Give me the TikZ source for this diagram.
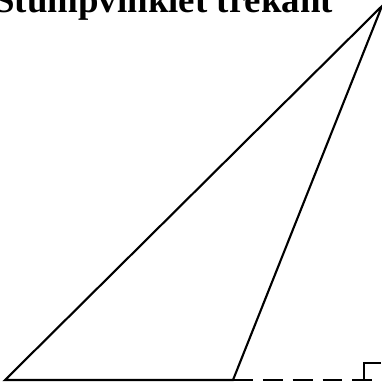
\documentclass[tikz,border=0pt]{standalone}
\usepackage{fontspec}
\setmainfont{Liberation Serif}
\usetikzlibrary{positioning}

\begin{document}
\begin{tikzpicture}[
  x=0.02cm, y=-0.02cm,
  side/.style={line width=1.2pt,black,line join=miter},
  extline/.style={line width=1.2pt,black,dash pattern=on 11.3pt off 5.7pt},
  rtangle/.style={line width=0.7pt,black},
  titlefont/.style={font=\bfseries\fontsize{21}{25}\selectfont,
                    inner sep=0pt,anchor=base west},
]
\useasboundingbox (0,0) rectangle (382,382);

%% ─── Triangle ────────────────────────────────────────────────────────────────
\coordinate (A) at (5,380);
\coordinate (B) at (233,380);
\coordinate (C) at (382,6);
\coordinate (F) at (381,380);

\draw[side] (A) -- (B) -- (C) -- cycle;

%% ─── Extension and right angle ───────────────────────────────────────────────
\draw[extline] (B) -- (F);
\coordinate (G) at (364,380);
\draw[rtangle] (G) -- (364,363) -- (381,363);

%% ─── Title ───────────────────────────────────────────────────────────────────
\node[titlefont] (title) at (-6,12) {Stumpvinklet trekant};

\end{tikzpicture}
\end{document}
